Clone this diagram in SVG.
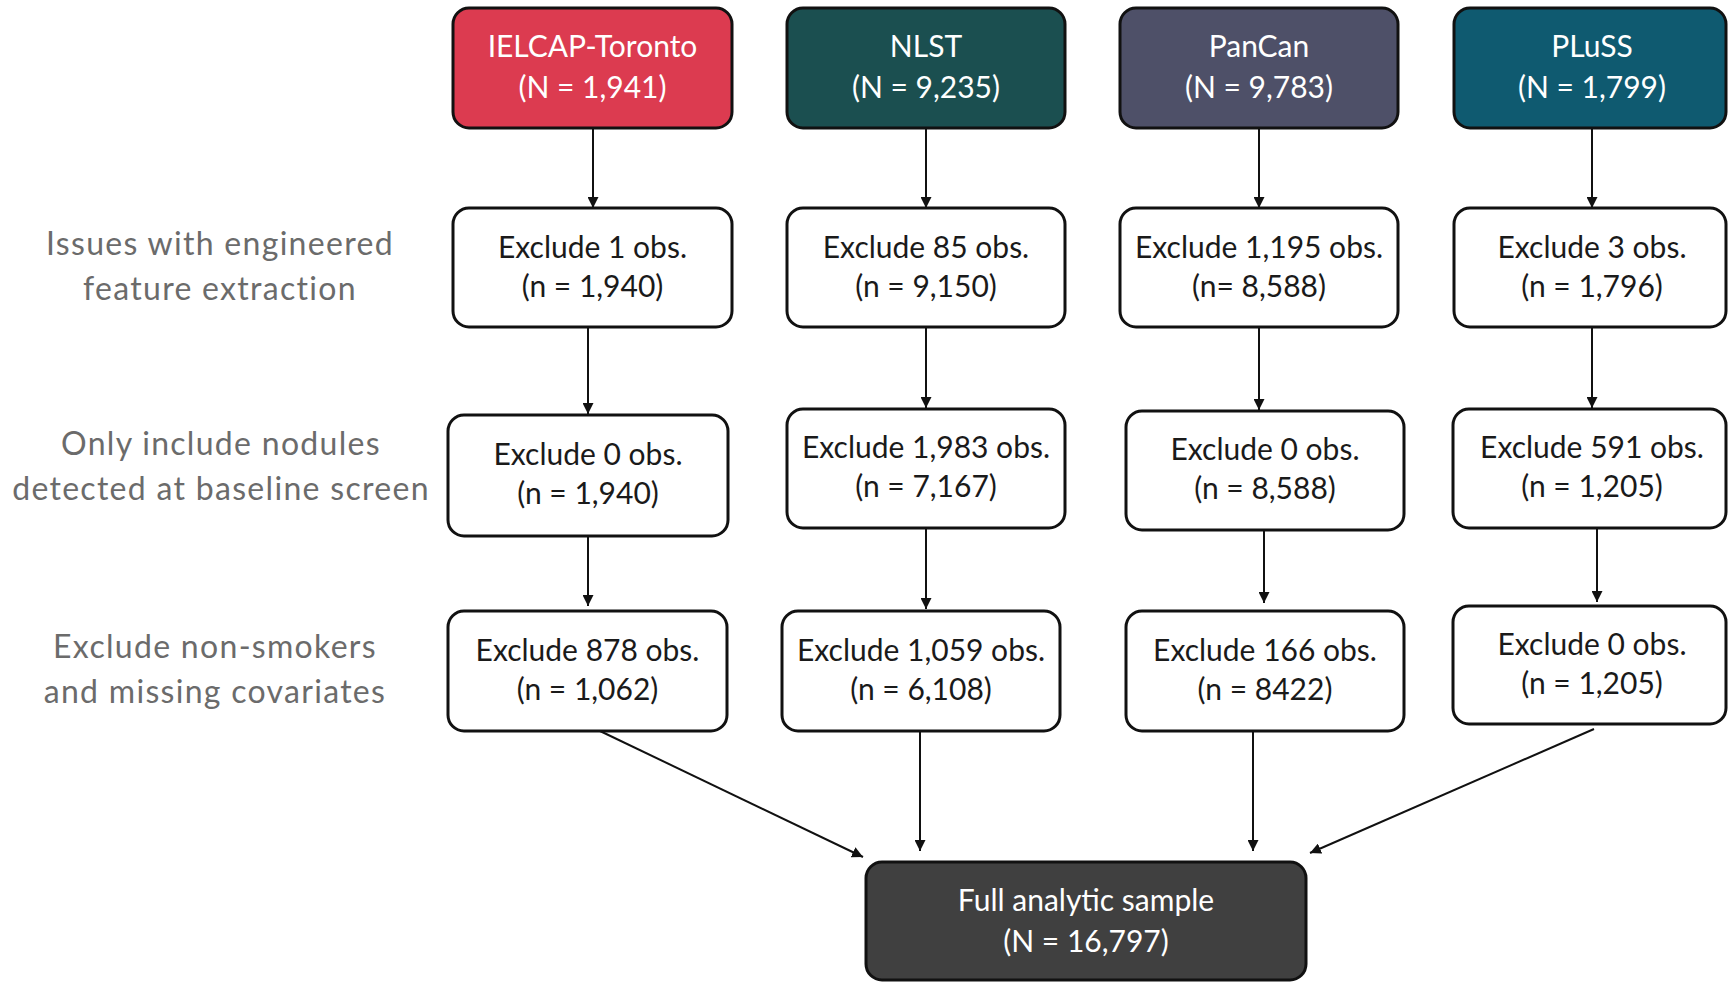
<svg xmlns="http://www.w3.org/2000/svg" width="1728" height="982" viewBox="0 0 1728 982">
<style>
.box{fill:#ffffff;stroke:#111111;stroke-width:3}
.hd{stroke:#111111;stroke-width:3}
.t{font-family:Lato,"Noto Sans","Liberation Sans",sans-serif;font-size:30px;fill:#1a1a1a;text-anchor:middle}
.th{font-family:Lato,"Noto Sans","Liberation Sans",sans-serif;font-size:30px;fill:#ffffff;text-anchor:middle}
.lab{font-family:Lato,"Noto Sans","Liberation Sans",sans-serif;font-size:32px;letter-spacing:1.3px;fill:#6b6b6b;text-anchor:middle}
.c{stroke:#111111;stroke-width:2;fill:none;marker-end:url(#ah)}
</style>
<defs>
<marker id="ah" markerUnits="userSpaceOnUse" markerWidth="11" markerHeight="11" refX="11" refY="5.5" orient="auto" viewBox="0 0 11 11">
<path d="M0,0 L11,5.5 L0,11 z" fill="#111111"/>
</marker>
</defs>
<rect width="1728" height="982" fill="#ffffff"/>

<g id="labels">
<text class="lab" x="220" y="255">Issues with engineered</text>
<text class="lab" x="220" y="300">feature extraction</text>
<text class="lab" x="221" y="455">Only include nodules</text>
<text class="lab" x="221" y="500">detected at baseline screen</text>
<text class="lab" x="215" y="658">Exclude non-smokers</text>
<text class="lab" x="215" y="703">and missing covariates</text>
</g>

<g id="connectors">
<line class="c" x1="593" y1="128" x2="593" y2="208"/>
<line class="c" x1="926" y1="128" x2="926" y2="208"/>
<line class="c" x1="1259" y1="128" x2="1259" y2="208"/>
<line class="c" x1="1592" y1="128" x2="1592" y2="208"/>
<line class="c" x1="588" y1="327" x2="588" y2="414"/>
<line class="c" x1="926" y1="327" x2="926" y2="408"/>
<line class="c" x1="1259" y1="327" x2="1259" y2="410"/>
<line class="c" x1="1592" y1="327" x2="1592" y2="408"/>
<line class="c" x1="588" y1="536" x2="588" y2="606"/>
<line class="c" x1="926" y1="528" x2="926" y2="609"/>
<line class="c" x1="1264" y1="530" x2="1264" y2="603"/>
<line class="c" x1="1597" y1="529" x2="1597" y2="602"/>
<line class="c" x1="600" y1="731" x2="863" y2="857"/>
<line class="c" x1="920" y1="731" x2="920" y2="851"/>
<line class="c" x1="1253" y1="731" x2="1253" y2="851"/>
<line class="c" x1="1594" y1="729" x2="1310" y2="853"/>
</g>

<g id="ielcap-toronto">
<rect class="hd" x="453" y="8" width="279" height="120" rx="16" fill="#dc3b50"/>
<text class="th" x="592.5" y="57">IELCAP-Toronto</text>
<text class="th" x="592.5" y="98">(N = 1,941)</text>
</g>
<g id="nlst">
<rect class="hd" x="787" y="8" width="278" height="120" rx="16" fill="#1b4f50"/>
<text class="th" x="926" y="57">NLST</text>
<text class="th" x="926" y="98">(N = 9,235)</text>
</g>
<g id="pancan">
<rect class="hd" x="1120" y="8" width="278" height="120" rx="16" fill="#4e5068"/>
<text class="th" x="1259" y="57">PanCan</text>
<text class="th" x="1259" y="98">(N = 9,783)</text>
</g>
<g id="pluss">
<rect class="hd" x="1454" y="8" width="272" height="120" rx="16" fill="#0f5a70"/>
<text class="th" x="1592" y="57">PLuSS</text>
<text class="th" x="1592" y="98">(N = 1,799)</text>
</g>

<g id="ielcap-step1">
<rect class="box" x="453" y="208" width="279" height="119" rx="16"/>
<text class="t" x="592.5" y="258">Exclude 1 obs.</text>
<text class="t" x="592.5" y="297">(n = 1,940)</text>
</g>
<g id="nlst-step1">
<rect class="box" x="787" y="208" width="278" height="119" rx="16"/>
<text class="t" x="926" y="258">Exclude 85 obs.</text>
<text class="t" x="926" y="297">(n = 9,150)</text>
</g>
<g id="pancan-step1">
<rect class="box" x="1120" y="208" width="278" height="119" rx="16"/>
<text class="t" x="1259" y="258">Exclude 1,195 obs.</text>
<text class="t" x="1259" y="297">(n= 8,588)</text>
</g>
<g id="pluss-step1">
<rect class="box" x="1454" y="208" width="272" height="119" rx="16"/>
<text class="t" x="1592" y="258">Exclude 3 obs.</text>
<text class="t" x="1592" y="297">(n = 1,796)</text>
</g>

<g id="ielcap-step2">
<rect class="box" x="448" y="415" width="280" height="121" rx="16"/>
<text class="t" x="588" y="465">Exclude 0 obs.</text>
<text class="t" x="588" y="504">(n = 1,940)</text>
</g>
<g id="nlst-step2">
<rect class="box" x="787" y="409" width="278" height="119" rx="16"/>
<text class="t" x="926" y="458">Exclude 1,983 obs.</text>
<text class="t" x="926" y="497">(n = 7,167)</text>
</g>
<g id="pancan-step2">
<rect class="box" x="1126" y="411" width="278" height="119" rx="16"/>
<text class="t" x="1265" y="460">Exclude 0 obs.</text>
<text class="t" x="1265" y="499">(n = 8,588)</text>
</g>
<g id="pluss-step2">
<rect class="box" x="1453" y="409" width="273" height="119" rx="16"/>
<text class="t" x="1592" y="458">Exclude 591 obs.</text>
<text class="t" x="1592" y="497">(n = 1,205)</text>
</g>

<g id="ielcap-step3">
<rect class="box" x="448" y="611" width="279" height="120" rx="16"/>
<text class="t" x="587.5" y="661">Exclude 878 obs.</text>
<text class="t" x="587.5" y="700">(n = 1,062)</text>
</g>
<g id="nlst-step3">
<rect class="box" x="782" y="611" width="278" height="120" rx="16"/>
<text class="t" x="921" y="661">Exclude 1,059 obs.</text>
<text class="t" x="921" y="700">(n = 6,108)</text>
</g>
<g id="pancan-step3">
<rect class="box" x="1126" y="611" width="278" height="120" rx="16"/>
<text class="t" x="1265" y="661">Exclude 166 obs.</text>
<text class="t" x="1265" y="700">(n = 8422)</text>
</g>
<g id="pluss-step3">
<rect class="box" x="1453" y="606" width="273" height="118" rx="16"/>
<text class="t" x="1592" y="655">Exclude 0 obs.</text>
<text class="t" x="1592" y="694">(n = 1,205)</text>
</g>

<g id="full-sample">
<rect class="hd" x="866" y="862" width="440" height="118" rx="16" fill="#404040"/>
<text class="th" x="1086" y="911">Full analytic sample</text>
<text class="th" x="1086" y="952">(N = 16,797)</text>
</g>
</svg>
